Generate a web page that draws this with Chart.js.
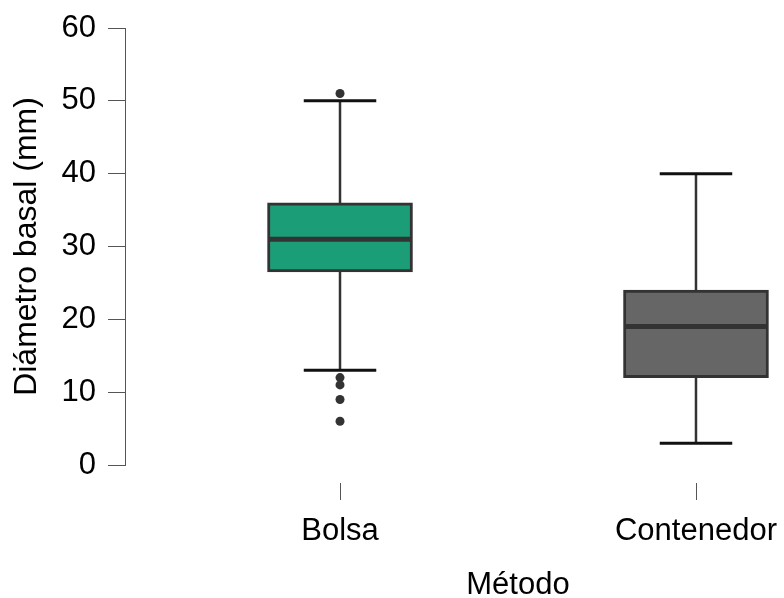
<!DOCTYPE html>
<html>
<head>
<meta charset="utf-8">
<script src="https://cdn.jsdelivr.net/npm/chart.js@4/dist/chart.umd.min.js"></script>
<style>
  html, body { margin: 0; padding: 0; background: #ffffff; overflow: hidden; }
  #wrap { width: 784px; height: 598px; overflow: hidden; position: relative; }
  #c { position: absolute; left: 0; top: 0; }
</style>
</head>
<body>
<div id="wrap"><canvas id="c" width="912" height="598"></canvas></div>
<script>
// Diámetro basal por método de producción: cinco números y atípicos
const categories = ['Bolsa', 'Contenedor'];
const whiskerLow = [13, 3];
const q1 = [26.5, 12];
const median = [31, 19];
const q3 = [36, 24];
const whiskerHigh = [50, 40];
const outliers = [[51, 12, 11, 9, 6], []];
const yTicks = [0, 10, 20, 30, 40, 50, 60];
const boxColors = ['#1b9e77', '#666666'];

const FONT = '"Liberation Sans", Arial, Helvetica, sans-serif';
const LINE = '#333333';

// Bigotes, topes y mediana dibujados con las escalas del gráfico
const boxLines = {
  id: 'boxLines',
  beforeDatasetsDraw(chart) {
    const { ctx, scales: { x, y } } = chart;
    ctx.save();
    ctx.strokeStyle = LINE;
    ctx.lineWidth = 2.5;
    categories.forEach((c, i) => {
      const px = x.getPixelForValue(i + 1);
      ctx.beginPath();
      ctx.moveTo(px, y.getPixelForValue(whiskerLow[i]));
      ctx.lineTo(px, y.getPixelForValue(whiskerHigh[i]));
      ctx.stroke();
    });
    ctx.restore();
  },
  afterDatasetsDraw(chart) {
    const { ctx, scales: { x, y }, chartArea } = chart;
    const bar = chart.getDatasetMeta(0).data;
    ctx.save();
    categories.forEach((c, i) => {
      const px = x.getPixelForValue(i + 1);
      const half = bar[i].width / 2;
      // mediana
      ctx.strokeStyle = LINE;
      ctx.lineWidth = 5;
      ctx.beginPath();
      const my = y.getPixelForValue(median[i]);
      ctx.moveTo(px - half + 1.5, my);
      ctx.lineTo(px + half - 1.5, my);
      ctx.stroke();
      // topes de los bigotes
      ctx.strokeStyle = '#111111';
      ctx.lineWidth = 3;
      [whiskerLow[i], whiskerHigh[i]].forEach(v => {
        const vy = y.getPixelForValue(v);
        ctx.beginPath();
        ctx.moveTo(px - half / 2, vy);
        ctx.lineTo(px + half / 2, vy);
        ctx.stroke();
      });
      // marca del eje x
      ctx.strokeStyle = '#555555';
      ctx.lineWidth = 1;
      ctx.beginPath();
      ctx.moveTo(Math.round(px) + 0.5, chartArea.bottom + 18);
      ctx.lineTo(Math.round(px) + 0.5, chartArea.bottom + 35);
      ctx.stroke();
    });
    ctx.restore();
  }
};

const boxData = categories.map((c, i) => ({ x: i + 1, y: [q1[i], q3[i]] }));
const outlierData = [];
outliers.forEach((list, i) => list.forEach(v => outlierData.push({ x: i + 1, y: v })));

new Chart(document.getElementById('c'), {
  type: 'bar',
  data: {
    datasets: [
      {
        type: 'bar',
        data: boxData,
        backgroundColor: boxColors,
        borderColor: LINE,
        borderWidth: 3,
        borderSkipped: false,
        barThickness: 145,
        order: 2
      },
      {
        type: 'scatter',
        data: outlierData,
        pointRadius: 4.5,
        pointBackgroundColor: LINE,
        pointBorderWidth: 0,
        showLine: false,
        order: 1
      }
    ]
  },
  plugins: [boxLines],
  options: {
    responsive: false,
    animation: false,
    devicePixelRatio: 1,
    layout: { autoPadding: false, padding: { top: 28, right: 1, left: 0, bottom: 0 } },
    plugins: { legend: { display: false }, tooltip: { enabled: false } },
    scales: {
      x: {
        type: 'linear',
        min: 0.396,
        max: 2.604,
        offset: false,
        border: { display: false },
        grid: { display: false, drawTicks: false, offset: false },
        afterBuildTicks: s => { s.ticks = categories.map((c, i) => ({ value: i + 1 })); },
        afterFit: s => { s.height = 133; s.paddingLeft = 0; s.paddingRight = 0; },
        ticks: {
          autoSkip: false,
          maxRotation: 0,
          padding: 48,
          color: '#000000',
          font: { family: FONT, size: 31 },
          callback: v => categories[v - 1]
        },
        title: {
          display: true,
          text: 'Método',
          color: '#000000',
          font: { family: FONT, size: 31, lineHeight: 0.8 },
          padding: { top: 0, bottom: 0 }
        }
      },
      y: {
        min: 0,
        max: 60,
        border: { display: true, color: '#555555', width: 1 },
        grid: { drawOnChartArea: false, drawTicks: true, tickLength: 17, color: '#555555' },
        afterBuildTicks: s => { s.ticks = yTicks.map(v => ({ value: v })); },
        afterFit: s => { s.width = 125; s.paddingTop = 0; s.paddingBottom = 0; },
        ticks: {
          padding: 12,
          color: '#000000',
          font: { family: FONT, size: 31 }
        },
        title: {
          display: true,
          text: 'Diámetro basal (mm)',
          color: '#000000',
          font: { family: FONT, size: 32, lineHeight: 1 },
          padding: { top: 11, bottom: 0 }
        }
      }
    }
  }
});
</script>
</body>
</html>
